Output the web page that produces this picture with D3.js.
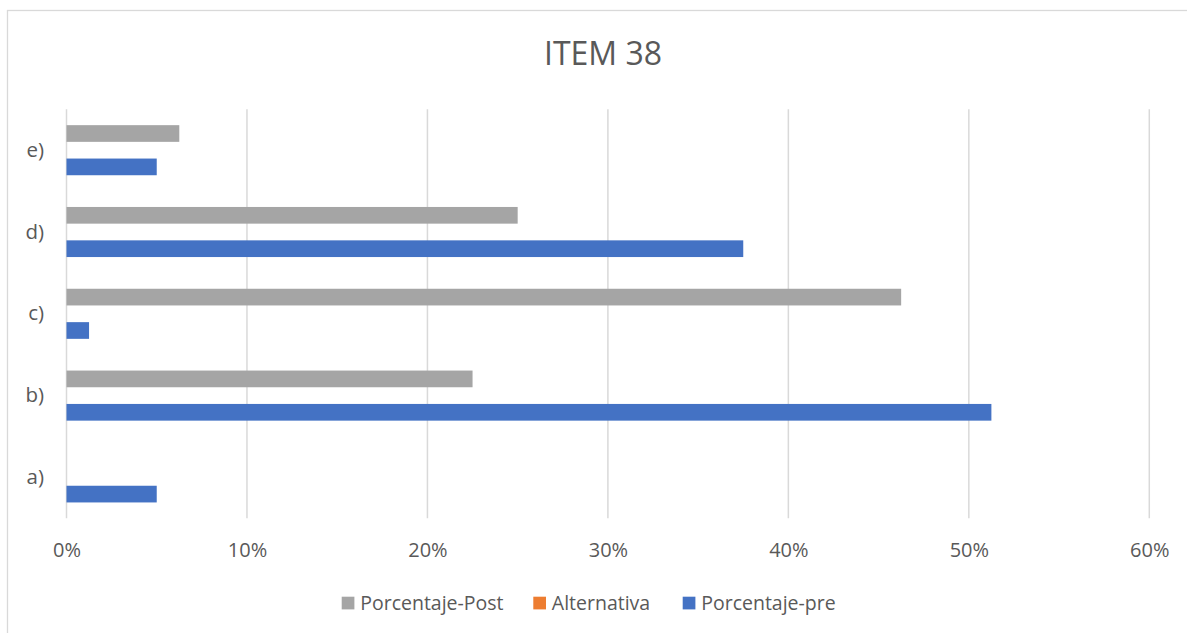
<!DOCTYPE html>
<html>
<head>
<meta charset="utf-8">
<script src="https://cdn.jsdelivr.net/npm/d3@7"></script>
<style>
  html, body { margin: 0; padding: 0; background: #fff; }
  svg { display: block; }
</style>
</head>
<body>
<script>
const categories = ["a)", "b)", "c)", "d)", "e)"];
const seriesNames = ["Porcentaje-Post", "Alternativa", "Porcentaje-pre"];
const postValues = [0, 0.225, 0.4625, 0.25, 0.0625];
const altValues = [0, 0, 0, 0, 0];
const preValues = [0.05, 0.5125, 0.0125, 0.375, 0.05];
const xTicks = [0, 0.1, 0.2, 0.3, 0.4, 0.5, 0.6];
const title = "ITEM 38";

const colors = { "Porcentaje-Post": "#A5A5A5", "Alternativa": "#ED7D31", "Porcentaje-pre": "#4472C4" };
const seriesValues = { "Porcentaje-Post": postValues, "Alternativa": altValues, "Porcentaje-pre": preValues };

const W = 1187, H = 633;
const font = "'Open Sans', sans-serif";
const textColor = "#595959";

const svg = d3.select("body").append("svg").attr("width", W).attr("height", H);

// outer border
svg.append("rect").attr("x", 7.5).attr("y", 10.5).attr("width", W + 10).attr("height", H + 10)
  .attr("fill", "#fff").attr("stroke", "#d9d9d9").attr("stroke-width", 1.3);

const x = d3.scaleLinear().domain([0, 0.6]).range([66.5, 1149.3]);
const y = d3.scaleBand().domain(categories.slice().reverse()).range([109.3, 518.3]);
const y1 = d3.scaleBand().domain(seriesNames).range([0, y.bandwidth()]).paddingInner(0).paddingOuter(0.95);

// gridlines
svg.append("g").selectAll("line").data(xTicks).join("line")
  .attr("x1", d => x(d)).attr("x2", d => x(d))
  .attr("y1", 109.3).attr("y2", 518.3)
  .attr("stroke", "#d9d9d9").attr("stroke-width", 1.5);

// bars
const groups = svg.append("g").selectAll("g").data(categories).join("g")
  .attr("transform", d => `translate(0,${y(d)})`);
groups.selectAll("rect").data((c, i) => seriesNames.map(s => ({ s, v: seriesValues[s][i] })))
  .join("rect")
  .attr("x", x(0))
  .attr("y", d => y1(d.s))
  .attr("width", d => x(d.v) - x(0))
  .attr("height", y1.bandwidth())
  .attr("fill", d => colors[d.s]);

// x axis labels
const xAxis = d3.axisBottom(x).tickValues(xTicks).tickFormat(d3.format(".0%")).tickSize(0).tickPadding(0);
const xg = svg.append("g").attr("transform", "translate(0,550)").call(xAxis);
xg.select(".domain").remove();
xg.selectAll("text").attr("font-family", font).attr("font-size", 20).attr("fill", textColor)
  .attr("dy", "0.35em").attr("y", 0);

// y axis labels
const yAxis = d3.axisLeft(y).tickSize(0).tickPadding(0);
const yg = svg.append("g").attr("transform", "translate(44,0)").call(yAxis);
yg.select(".domain").remove();
yg.selectAll("text").attr("font-family", font).attr("font-size", 20.5).attr("fill", textColor);

// title
svg.append("text").attr("x", 603).attr("y", 65).attr("text-anchor", "middle")
  .attr("font-family", font).attr("font-size", 32).attr("fill", textColor).text(title);

// legend
const legendItems = [
  { s: "Porcentaje-Post", x: 341.7 },
  { s: "Alternativa", x: 533.3 },
  { s: "Porcentaje-pre", x: 682.7 }
];
const lg = svg.append("g").selectAll("g").data(legendItems).join("g")
  .attr("transform", d => `translate(${d.x},603)`);
lg.append("rect").attr("x", 0).attr("y", -6.3).attr("width", 12.7).attr("height", 12.7)
  .attr("fill", d => colors[d.s]);
lg.append("text").attr("x", 18.5).attr("y", 0).attr("dy", "0.35em")
  .attr("font-family", font).attr("font-size", 19.5).attr("fill", textColor).text(d => d.s);
</script>
</body>
</html>
